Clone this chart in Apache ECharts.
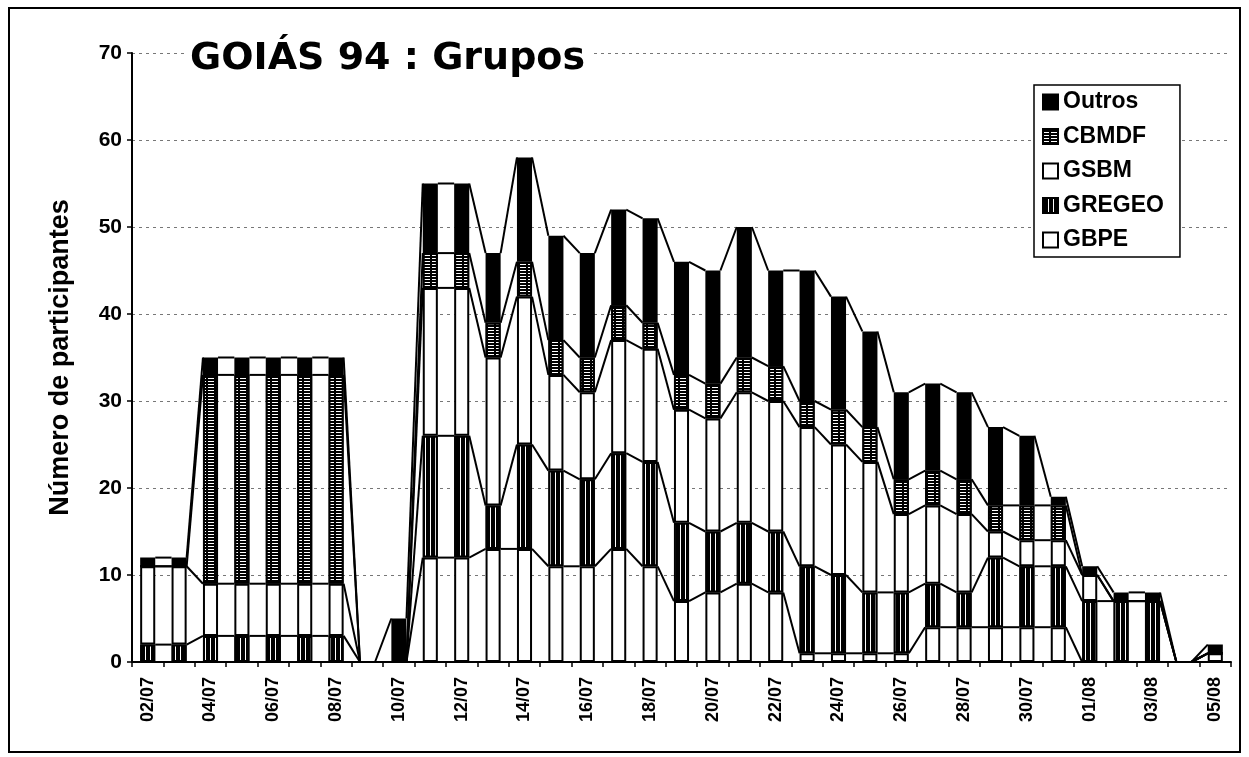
<!DOCTYPE html>
<html>
<head>
<meta charset="utf-8">
<script src="https://cdn.jsdelivr.net/npm/echarts@6/dist/echarts.min.js"></script>
<style>
  html, body { margin: 0; padding: 0; background: #fff; }
  #chart { width: 1249px; height: 757px; }
</style>
</head>
<body>
<div id="chart"></div>
<script>
// dias do evento (02/07 a 05/08)
var categories = [
  "02/07", "03/07", "04/07", "05/07", "06/07", "07/07", "08/07", "09/07",
  "10/07", "11/07", "12/07", "13/07", "14/07", "15/07", "16/07", "17/07",
  "18/07", "19/07", "20/07", "21/07", "22/07", "23/07", "24/07", "25/07",
  "26/07", "27/07", "28/07", "29/07", "30/07", "31/07", "01/08", "02/08",
  "03/08", "04/08", "05/08"
];

// participantes por grupo (de baixo para cima na pilha)
var gbpe   = [0, 0, 0, 0, 0, 0, 0, 0, 0, 12, 12, 13, 13, 11, 11, 13, 11, 7, 8, 9, 8, 1, 1, 1, 1, 4, 4, 4, 4, 4, 0, 0, 0, 0, 1];
var gregeo = [2, 2, 3, 3, 3, 3, 3, 0, 0, 14, 14, 5, 12, 11, 10, 11, 12, 9, 7, 7, 7, 10, 9, 7, 7, 5, 4, 8, 7, 7, 7, 7, 7, 0, 0];
var gsbm   = [9, 9, 6, 6, 6, 6, 6, 0, 0, 17, 17, 17, 17, 11, 10, 13, 13, 13, 13, 15, 15, 16, 15, 15, 9, 9, 9, 3, 3, 3, 3, 0, 0, 0, 0];
var cbmdf  = [0, 0, 24, 24, 24, 24, 24, 0, 0, 4, 4, 4, 4, 4, 4, 4, 3, 4, 4, 4, 4, 3, 4, 4, 4, 4, 4, 3, 4, 4, 0, 0, 0, 0, 0];
var outros = [1, 1, 2, 2, 2, 2, 2, 0, 5, 8, 8, 8, 12, 12, 12, 11, 12, 13, 13, 15, 11, 15, 13, 11, 10, 10, 10, 9, 8, 1, 1, 1, 1, 0, 1];

var yTicks = [0, 10, 20, 30, 40, 50, 60, 70];

var FONT = "Liberation Sans, Arial, sans-serif";
var BAR_FRAC = 0.48;

// somas acumuladas para as linhas de série
var stackList = [gbpe, gregeo, gsbm, cbmdf, outros];
var cum = [];
var run = categories.map(function () { return 0; });
stackList.forEach(function (arr) {
  run = run.map(function (v, i) { return v + arr[i]; });
  cum.push(run.slice());
});

var chart = echarts.init(document.getElementById("chart"));

function barSeries(name, color, decal) {
  var style = { color: color, borderColor: "#000", borderWidth: 2 };
  if (decal) style.decal = decal;
  return {
    name: name,
    type: "bar",
    stack: "total",
    barWidth: BAR_FRAC * 100 + "%",
    itemStyle: style,
    emphasis: { disabled: true },
    z: 2
  };
}

var sGbpe = barSeries("GBPE", "#fff");
sGbpe.data = gbpe;
var sGregeo = barSeries("GREGEO", "#000", {
  symbol: "rect", symbolSize: 1, color: "#fff",
  dashArrayX: [1, 4], dashArrayY: [5, 0]
});
sGregeo.data = gregeo;
var sGsbm = barSeries("GSBM", "#fff");
sGsbm.data = gsbm;
var sCbmdf = barSeries("CBMDF", "#000", {
  symbol: "rect", symbolSize: 1, color: "#fff",
  dashArrayX: [6, 2], dashArrayY: [1, 2]
});
sCbmdf.data = cbmdf;
var sOutros = barSeries("Outros", "#000");
sOutros.data = outros;

// linhas de série (liga o topo de cada segmento ao da barra seguinte)
var linkData = categories.slice(0, -1).map(function (c, i) { return [i, 0]; });
var sLinks = {
  type: "custom",
  coordinateSystem: "cartesian2d",
  silent: true,
  z: 3,
  encode: { x: 0, y: 1 },
  data: linkData,
  renderItem: function (params, api) {
    var i = api.value(0);
    var half = api.size([1, 0])[0] * BAR_FRAC / 2;
    var children = [];
    for (var k = 0; k < cum.length; k++) {
      var p1 = api.coord([i, cum[k][i]]);
      var p2 = api.coord([i + 1, cum[k][i + 1]]);
      children.push({
        type: "line",
        shape: { x1: p1[0] + half, y1: p1[1], x2: p2[0] - half, y2: p2[1] },
        style: { stroke: "#000", lineWidth: 2 }
      });
    }
    return { type: "group", children: children };
  }
};

chart.setOption({
  animation: false,
  backgroundColor: "#fff",
  title: {
    text: "GOIÁS 94 : Grupos",
    left: 184,
    top: 40,
    backgroundColor: "#fff",
    padding: [0, 6],
    textStyle: {
      fontFamily: "DejaVu Sans, sans-serif",
      fontSize: 38,
      fontWeight: "bold",
      color: "#000"
    }
  },
  legend: {
    orient: "vertical",
    left: 1034,
    top: 85,
    data: ["Outros", "CBMDF", "GSBM", "GREGEO", "GBPE"],
    icon: "rect",
    itemWidth: 15,
    itemHeight: 15,
    itemGap: 10.5,
    padding: [5, 16, 5, 8],
    borderColor: "#000",
    borderWidth: 1.5,
    backgroundColor: "#fff",
    textStyle: { fontFamily: FONT, fontSize: 23, fontWeight: "bold", color: "#000", lineHeight: 24 }
  },
  graphic: [{
    type: "rect",
    shape: { x: 9, y: 8, width: 1231, height: 744 },
    style: { fill: "none", stroke: "#000", lineWidth: 2 },
    silent: true
  }],
  grid: { left: 132, right: 18, top: 53, bottom: 95 },
  xAxis: {
    type: "category",
    data: categories,
    boundaryGap: true,
    axisLine: { lineStyle: { color: "#000", width: 2 } },
    axisTick: { show: true, interval: 0, length: 5, lineStyle: { color: "#000", width: 1.5 } },
    axisLabel: {
      interval: 1,
      rotate: 90,
      margin: 15,
      color: "#000",
      fontFamily: FONT,
      fontSize: 18,
      fontWeight: "bold"
    }
  },
  yAxis: {
    type: "value",
    min: yTicks[0],
    max: yTicks[yTicks.length - 1],
    interval: 10,
    name: "Número de participantes",
    nameLocation: "middle",
    nameGap: 58,
    nameTextStyle: { fontFamily: FONT, fontSize: 27, fontWeight: "bold", color: "#000" },
    axisLine: { show: true, lineStyle: { color: "#000", width: 2 } },
    axisTick: { show: true, length: 5, lineStyle: { color: "#000", width: 1.5 } },
    axisLabel: { color: "#000", fontFamily: FONT, fontSize: 21, fontWeight: "bold", margin: 10 },
    splitLine: { show: true, lineStyle: { color: "#777", width: 1, type: [3, 4] } }
  },
  series: [sGbpe, sGregeo, sGsbm, sCbmdf, sOutros, sLinks]
});
</script>
</body>
</html>
